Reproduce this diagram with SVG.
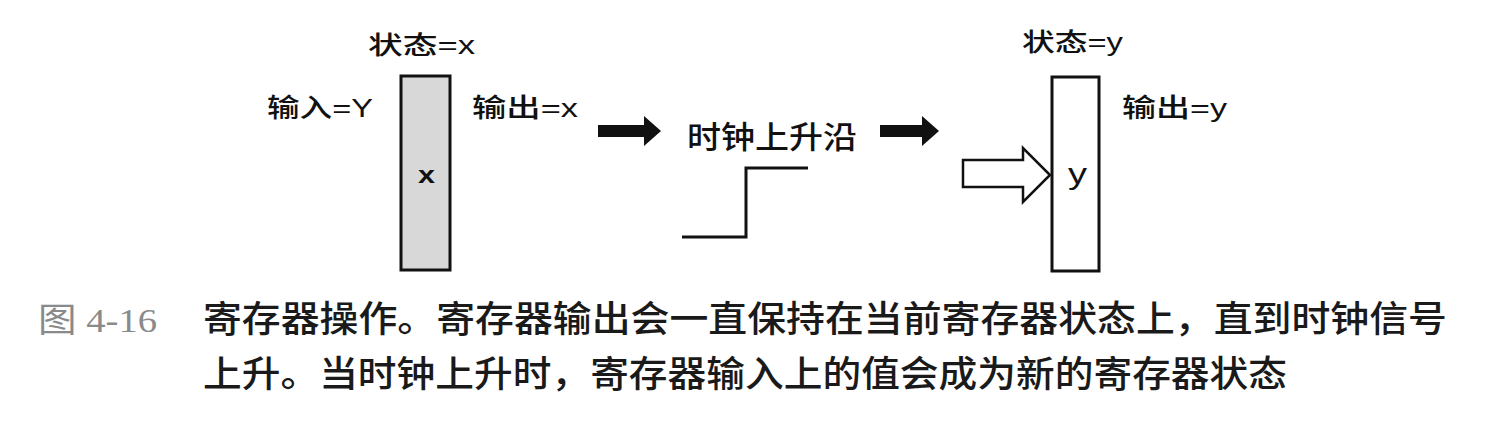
<svg xmlns="http://www.w3.org/2000/svg" width="1492" height="424" viewBox="0 0 1492 424">
<style>
.lbl{font-family:"Liberation Sans","Noto Sans CJK SC",sans-serif;fill:#111;font-weight:500;}
.bx{font-weight:bold;}
.cap{font-family:"Noto Sans CJK SC",sans-serif;fill:#1a1a1a;font-size:36px;font-weight:500;}
.box{stroke:#111;stroke-width:3;}
.blk{fill:#111;stroke:none;}
</style>
<rect width="1492" height="424" fill="#ffffff"/>
<g id="reg-before">
<rect class="box" x="401" y="76" width="49" height="194" fill="#d8d8d8"/>
<text class="lbl" x="368" y="54" font-size="25" textLength="107" lengthAdjust="spacingAndGlyphs">状态=x</text>
<text class="lbl" x="267" y="117" font-size="26" textLength="106" lengthAdjust="spacingAndGlyphs">输入=Y</text>
<text class="lbl" x="472" y="117" font-size="26" textLength="106" lengthAdjust="spacingAndGlyphs">输出=x</text>
<text class="lbl bx" x="418" y="183" font-size="24" textLength="17" lengthAdjust="spacingAndGlyphs">x</text>
</g>
<g id="clock-edge">
<text class="lbl" x="687" y="148" font-size="31" textLength="170" lengthAdjust="spacingAndGlyphs">时钟上升沿</text>
<polyline points="682,237 746,237 746,168 808,168" fill="none" stroke="#111" stroke-width="3"/>
</g>
<g id="reg-after">
<rect class="box" x="1052" y="77" width="47" height="194" fill="#ffffff"/>
<text class="lbl" x="1022" y="51" font-size="25" textLength="101" lengthAdjust="spacingAndGlyphs">状态=y</text>
<text class="lbl" x="1122" y="117" font-size="26" textLength="105" lengthAdjust="spacingAndGlyphs">输出=y</text>
<text class="lbl" x="1068" y="184" font-size="30" textLength="19" lengthAdjust="spacingAndGlyphs">y</text>
</g>
<g id="connectors">
<path class="blk" d="M598,125 H644 V116 L661,131 L644,146 V137 H598 Z"/>
<path class="blk" d="M880,125 H922 V116 L939,131 L922,146 V137 H880 Z"/>
<path d="M963,160 H1023 V148 L1050,175 L1023,202 V187 H963 Z" fill="#ffffff" stroke="#111" stroke-width="2.5" stroke-linejoin="miter"/>
</g>
<g id="caption">
<text x="38" y="332" font-family="Liberation Serif,Noto Sans CJK SC,serif" font-size="34" fill="#8a8a8a" textLength="119" lengthAdjust="spacingAndGlyphs">图 4-16</text>
<text class="cap" x="203" y="332" textLength="1244" lengthAdjust="spacingAndGlyphs">寄存器操作。寄存器输出会一直保持在当前寄存器状态上，直到时钟信号</text>
<text class="cap" x="203" y="387" textLength="1084" lengthAdjust="spacingAndGlyphs">上升。当时钟上升时，寄存器输入上的值会成为新的寄存器状态</text>
</g>
</svg>
